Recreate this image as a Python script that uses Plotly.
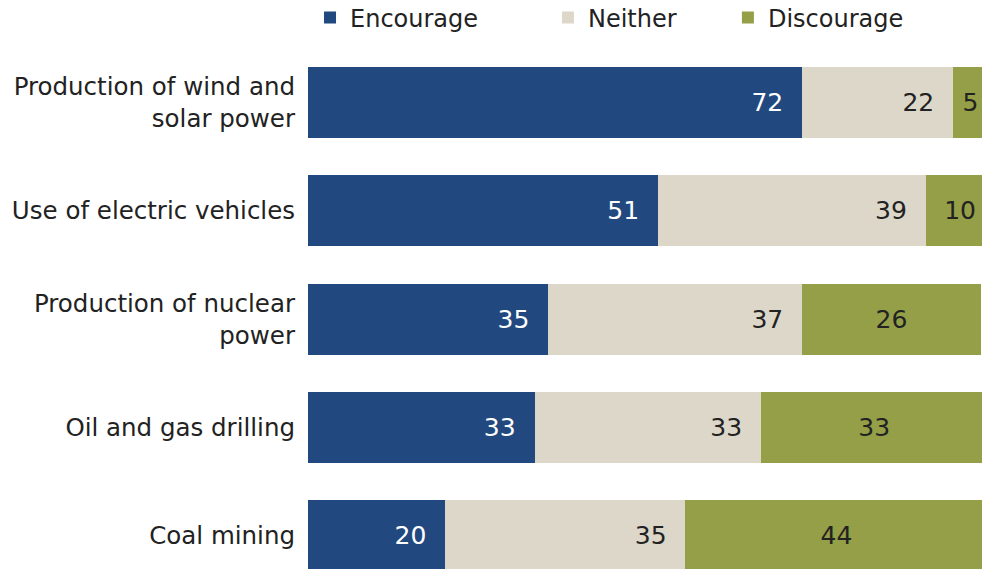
import plotly.graph_objects as go

categories = ["Production of wind and<br>solar power", "Use of electric vehicles",
              "Production of nuclear<br>power", "Oil and gas drilling", "Coal mining"]
encourage = [72, 51, 35, 33, 20]
neither = [22, 39, 37, 33, 35]
discourage = [5, 10, 26, 33, 44]

FONT = "DejaVu Sans, Verdana, sans-serif"

series = [
    ("Encourage", encourage, "#21497f", "white", "end", "legend", 0.003),
    ("Neither", neither, "#dcd7c9", "#222222", "end", "legend2", 0.356),
    ("Discourage", discourage, "#949f47", "#222222", "middle", "legend3", 0.623),
]

fig = go.Figure()
legends = {}
for name, vals, color, tcolor, anchor, leg, lx in series:
    tmpl = "%{x}" + ("\u00a0" * 2 if anchor == "end" else "")
    fig.add_trace(go.Bar(
        y=categories, x=vals, name=name, orientation="h", legend=leg,
        marker=dict(color=color, line=dict(width=0)),
        texttemplate=tmpl, textposition="inside", insidetextanchor=anchor,
        textfont=dict(color=tcolor, size=25, family=FONT),
        hoverinfo="skip",
    ))
    legends[leg] = dict(orientation="h", x=lx, xanchor="left",
                        y=1 - 18 / 569, yref="container", yanchor="middle",
                        font=dict(size=24, family=FONT, color="#222222"),
                        itemwidth=30, bgcolor="rgba(0,0,0,0)")

fig.update_layout(
    barmode="stack", bargap=0.345,
    width=982, height=569,
    margin=dict(l=308, r=0, t=48, b=0),
    paper_bgcolor="white", plot_bgcolor="white",
    font=dict(family=FONT, color="#222222", size=25),
    showlegend=True,
    uniformtext=dict(minsize=10, mode="show"),
    **legends,
)
fig.update_xaxes(range=[0, 98.2], visible=False, fixedrange=True)
fig.update_yaxes(range=[4.306, -0.5], showgrid=False, showline=False, ticks="",
                 ticklabelstandoff=12, tickfont=dict(size=24.5, color="#222222", family=FONT))

fig.write_html("out.html")
